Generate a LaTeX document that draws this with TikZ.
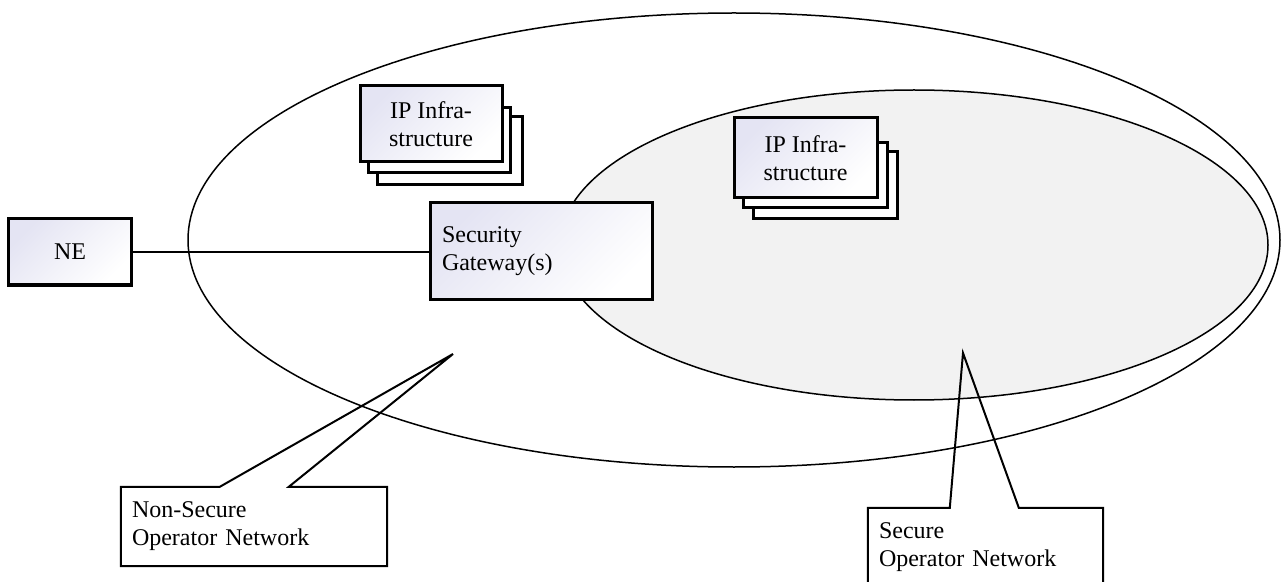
\documentclass[tikz,border=0pt]{standalone}
\usepackage{fontspec}
\setmainfont{Liberation Serif}
\usetikzlibrary{calc}
\definecolor{lav}{HTML}{E4E4F3}
\definecolor{netgray}{HTML}{F2F2F2}
\begin{document}
\begin{tikzpicture}[x=1bp,y=-1bp,
  every node/.style={font=\fontsize{24bp}{28bp}\selectfont},
  elem/.style={draw, line width=3bp, top color=lav, bottom color=white, shading angle=45, inner sep=0pt},
  backbox/.style={draw, line width=3bp, fill=white, inner sep=0pt},
  net/.style={draw, line width=1.5bp},
  link/.style={line width=1.5bp},
  calbox/.style={fill=white, inner ysep=0pt, inner xsep=11bp, align=left},
  callout/.style={line width=2bp, line join=miter},
]
\useasboundingbox (0,0) rectangle (1281,582);
% networks
\draw[net, fill=white] (734,240) ellipse [x radius=546, y radius=227];
\draw[net, fill=netgray] (914,245) ellipse [x radius=354, y radius=155];
% IP infrastructure stack 1
\node[backbox, minimum width=145bp, minimum height=68bp] (ipAc) at (449.5,151) {};
\node[backbox, minimum width=142bp, minimum height=65bp] (ipAb) at (439,140.5) {};
\node[elem, minimum width=142bp, minimum height=76bp, align=center] (ipA) at (431,124) {IP Infra-\\structure};
% IP infrastructure stack 2
\node[backbox, minimum width=144bp, minimum height=67bp] (ipBc) at (825,185.5) {};
\node[backbox, minimum width=144bp, minimum height=65bp] (ipBb) at (815,175.5) {};
\node[elem, minimum width=143bp, minimum height=80bp, align=center] (ipB) at (805.5,158) {IP Infra-\\structure};
% NE and gateway
\node[elem, minimum width=122bp, minimum height=66bp] (ne) at (70,252) {NE};
\node[elem, minimum width=222bp, minimum height=96bp, inner xsep=12bp, text width=198bp, align=left] (gw) at (541,251) {Security\\Gateway(s)};
\draw[link] (ne.east) -- (ne.east -| gw.west);
% callouts
\coordinate (nstip) at (453,354);
\coordinate (stip) at (963,353);
\node[calbox, minimum width=266bp, minimum height=79bp, text width=244bp] (ns) at (254,526.5) {Non-Secure\\Operator Network};
\node[calbox, minimum width=235bp, minimum height=79bp, text width=213bp] (sn) at (985.5,547.5) {Secure\\Operator Network};
\draw[callout] ($(ns.north west)+(99,0)$) -- (nstip) -- ($(ns.north west)+(168,0)$) -- (ns.north east) -- (ns.south east) -- (ns.south west) -- (ns.north west) -- cycle;
\draw[callout] ($(sn.north west)+(82,0)$) -- (stip) -- ($(sn.north west)+(151,0)$) -- (sn.north east) -- (sn.south east) -- (sn.south west) -- (sn.north west) -- cycle;
\end{tikzpicture}
\end{document}
